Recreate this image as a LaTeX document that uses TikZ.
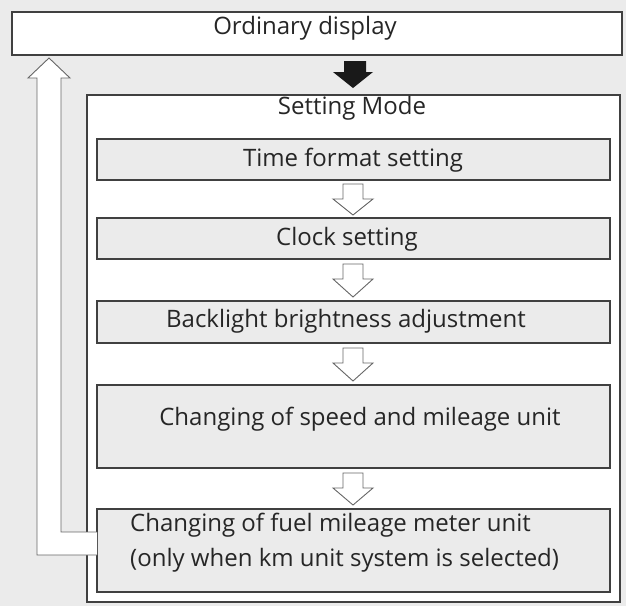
\documentclass[tikz,border=0pt]{standalone}
\usepackage{fontspec}
\setmainfont{Open Sans}
\begin{document}
\begin{tikzpicture}[x=1pt,y=-1pt,
  bx/.style={draw=black!75,line width=1.2pt},
  gbx/.style={draw=black!75,line width=1.2pt,fill=black!8},
  lab/.style={font=\fontsize{24}{29}\selectfont,text=black!85,inner sep=0pt},
  hol/.style={draw=black!60,line width=0.9pt,fill=white}]
\fill[black!8] (0,0) rectangle (626,606);
\useasboundingbox (0,0) rectangle (626,606);
\draw[bx,fill=white] (12,12) rectangle (622,55);
\node[lab] (ord) at (305,28) {Ordinary display};
\draw[bx,fill=white] (87,95) rectangle (620,602);
\node[lab] (sm) at (352,108) {Setting Mode};
\draw[gbx] (97,139) rectangle (610,180); \node[lab] (b1) at (353,160) {Time format setting};
\draw[gbx] (97,218) rectangle (610,259); \node[lab] (b2) at (347,239) {Clock setting};
\draw[gbx] (97,301) rectangle (610,343); \node[lab] (b3) at (346,321) {Backlight brightness adjustment};
\draw[gbx] (97,385) rectangle (610,468); \node[lab] (b4) at (360,419) {Changing of speed and mileage unit};
\draw[gbx] (97,509) rectangle (610,592);
\node[lab,align=left,anchor=west] (b5) at (130,543) {Changing of fuel mileage meter unit\\[6pt](only when km unit system is selected)};
% black arrow
\fill[black!90] (344,61) -- (366,61) -- (366,72) -- (373,72) -- (353,88) -- (333,72) -- (344,72) -- cycle;
% hollow arrows
\foreach \t/\b in {184/215, 264/297, 348/381, 473/505}{
  \draw[hol] (343,\t) -- (363,\t) -- (363,\t+15) -- (373,\t+15) -- (353,\b) -- (333,\t+15) -- (343,\t+15) -- cycle;
}
% return arrow
\draw[hol] (97,555) -- (37,555) -- (37,78) -- (28,78) -- (49,58) -- (70,78) -- (61,78) -- (61,532) -- (97,532);
\end{tikzpicture}
\end{document}
